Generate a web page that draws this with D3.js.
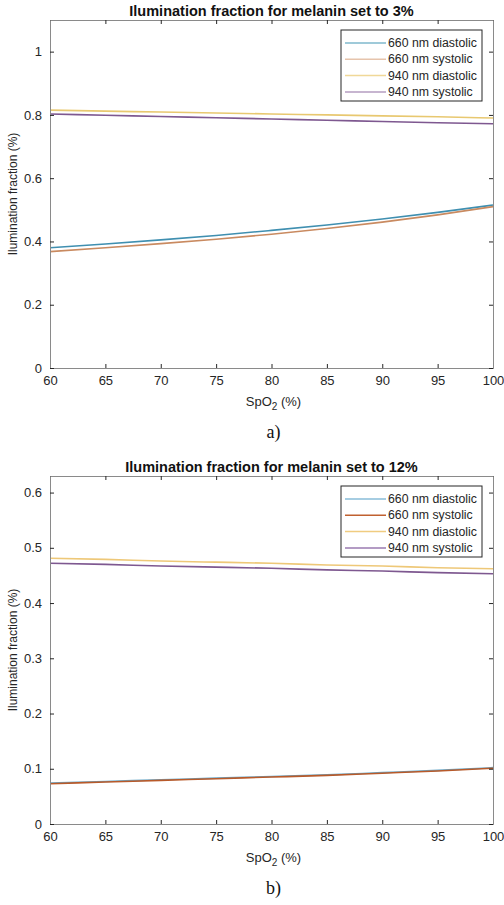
<!DOCTYPE html>
<html>
<head>
  <meta charset="UTF-8">
  <style>
    body { margin: 0; background: #fff; }
    svg { display: block; font-family: "Liberation Sans", Arial, sans-serif; }
  </style>
</head>
<body>
  <div id="chart"></div>
  <script src="https://d3js.org/d3.v7.min.js"></script>
  <script>
    // SpO2 values (x)
    const spo2 = [60, 65, 70, 75, 80, 85, 90, 95, 100];
    const seriesNames = ["660 nm diastolic", "660 nm systolic", "940 nm diastolic", "940 nm systolic"];
    const xTicks = [60, 65, 70, 75, 80, 85, 90, 95, 100];

    // melanin 3%
    const a660dia = [0.380, 0.392, 0.405, 0.419, 0.435, 0.452, 0.471, 0.492, 0.515];
    const a660sys = [0.368, 0.380, 0.393, 0.407, 0.423, 0.441, 0.461, 0.484, 0.510];
    const a940dia = [0.815, 0.812, 0.809, 0.806, 0.803, 0.800, 0.797, 0.794, 0.790];
    const a940sys = [0.803, 0.799, 0.795, 0.791, 0.787, 0.783, 0.779, 0.775, 0.772];
    const aYTicks = [0, 0.2, 0.4, 0.6, 0.8, 1];

    // melanin 12%
    const b660dia = [0.074, 0.077, 0.080, 0.083, 0.086, 0.089, 0.093, 0.097, 0.102];
    const b660sys = [0.073, 0.076, 0.079, 0.082, 0.085, 0.088, 0.092, 0.096, 0.101];
    const b940dia = [0.481, 0.479, 0.476, 0.474, 0.472, 0.469, 0.467, 0.464, 0.462];
    const b940sys = [0.472, 0.470, 0.467, 0.465, 0.463, 0.460, 0.458, 0.455, 0.453];
    const bYTicks = [0, 0.1, 0.2, 0.3, 0.4, 0.5, 0.6];

    const width = 504, height = 905;
    const svg = d3.select("#chart").append("svg")
      .attr("width", width).attr("height", height);

    function drawPanel(opt) {
      const m = { left: 50, right: 493, top: opt.top, bottom: opt.top + 348 };
      const x = d3.scaleLinear().domain([60, 100]).range([m.left, m.right]);
      const y = d3.scaleLinear().domain([0, opt.yMax]).range([m.bottom, m.top]);
      const g = svg.append("g");

      // lines
      const line = d3.line().x((d, i) => x(spo2[i])).y(d => y(d)).curve(d3.curveMonotoneX);
      opt.series.forEach((s, k) => {
        g.append("path").attr("d", line(s))
          .attr("fill", "none").attr("stroke", opt.colors[k]).attr("stroke-width", 1.6);
      });

      // axes (MATLAB box, inward ticks)
      const tick = 4;
      g.append("g").attr("transform", `translate(0,${m.bottom})`)
        .call(d3.axisBottom(x).tickValues(xTicks).tickSize(-tick).tickPadding(8))
        .call(ax => ax.selectAll("text").attr("font-size", 13).attr("fill", "#262626"));
      g.append("g").attr("transform", `translate(0,${m.top})`)
        .call(d3.axisTop(x).tickValues(xTicks).tickSize(-tick).tickFormat(""));
      g.append("g").attr("transform", `translate(${m.left},0)`)
        .call(d3.axisLeft(y).tickValues(opt.yTicks).tickSize(-tick).tickPadding(8)
          .tickFormat(d => d === 0 || d === 1 ? d3.format("d")(d) : d3.format(".1f")(d)))
        .call(ax => ax.selectAll("text").attr("font-size", 13).attr("fill", "#262626"));
      g.append("g").attr("transform", `translate(${m.right},0)`)
        .call(d3.axisRight(y).tickValues(opt.yTicks).tickSize(-tick).tickFormat(""));
      g.selectAll(".domain").attr("stroke", "#8a8a8a");
      g.selectAll(".tick line").attr("stroke", "#262626");

      // title
      g.append("text").attr("x", (m.left + m.right) / 2).attr("y", m.top - 4)
        .attr("text-anchor", "middle").attr("font-size", 14.5).attr("font-weight", "bold")
        .attr("fill", "#111").text(opt.title);

      // y label
      g.append("text")
        .attr("transform", `translate(17,${(m.top + m.bottom) / 2}) rotate(-90)`)
        .attr("text-anchor", "middle").attr("font-size", 12).attr("fill", "#262626")
        .text("Ilumination fraction (%)");

      // x label with subscript
      const xl = g.append("text").attr("x", (m.left + m.right) / 2 + 2).attr("y", m.bottom + 38)
        .attr("text-anchor", "middle").attr("font-size", 13).attr("fill", "#262626");
      xl.append("tspan").text("SpO");
      xl.append("tspan").attr("dy", 4).attr("font-size", 10).text("2");
      xl.append("tspan").attr("dy", -4).text(" (%)");

      // panel caption
      g.append("text").attr("x", (m.left + m.right) / 2 + 2).attr("y", m.bottom + 70)
        .attr("text-anchor", "middle").attr("font-size", 18)
        .attr("font-family", "'Liberation Serif', 'Times New Roman', serif")
        .attr("fill", "#111").text(opt.caption);

      // legend
      const lg = g.append("g").attr("transform", `translate(341,${m.top + 10})`);
      lg.append("rect").attr("width", 141).attr("height", 71)
        .attr("fill", "#fff").attr("stroke", "#262626").attr("stroke-width", 1);
      seriesNames.forEach((name, k) => {
        const yy = 13 + k * 16.3;
        lg.append("line").attr("x1", 4).attr("x2", 45).attr("y1", yy).attr("y2", yy)
          .attr("stroke", opt.legendColors[k]).attr("stroke-width", 1.5);
        lg.append("text").attr("x", 47).attr("y", yy + 4).attr("font-size", 12.3)
          .attr("fill", "#262626").text(name);
      });
    }

    drawPanel({
      top: 20, yMax: 1.1, yTicks: aYTicks,
      title: "Ilumination fraction for melanin set to 3%", caption: "a)",
      series: [a660dia, a660sys, a940dia, a940sys],
      colors: ["#3f8fb0", "#c98a60", "#e8c870", "#7e5890"],
      legendColors: ["#7fb8cc", "#e6c4ac", "#f0d898", "#b49cc0"]
    });

    drawPanel({
      top: 476, yMax: 0.63, yTicks: bYTicks,
      title: "Ilumination fraction for melanin set to 12%", caption: "b)",
      series: [b660dia, b660sys, b940dia, b940sys],
      colors: ["#6aa8c8", "#b85a2a", "#eec878", "#7e5890"],
      legendColors: ["#88bcd8", "#c06030", "#f0cc80", "#9a7ab0"]
    });
  </script>
</body>
</html>
